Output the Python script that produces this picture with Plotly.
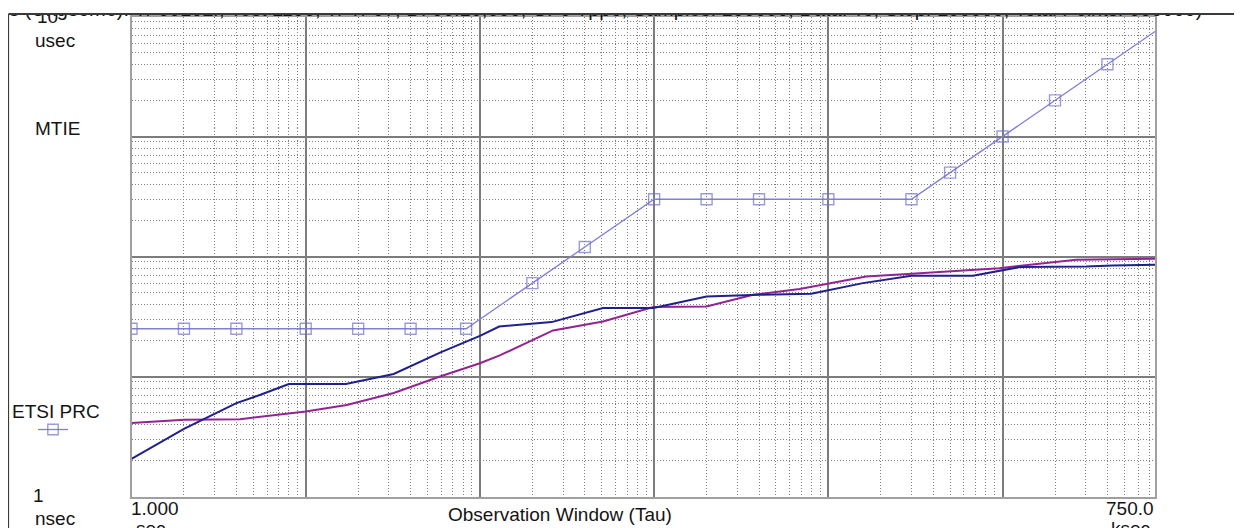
import math
import plotly.graph_objects as go

W, H = 1242, 528          # browser window
OFF = 8                   # default page margin around the figure
FW, FH = W - OFF, H - OFF  # figure size so it fills the window

# ---------------- data ----------------
# ETSI PRC mask: observation window (s) and MTIE (ns)
tau_mask = [1, 2, 4, 10, 20, 40, 83.3, 200, 400, 1000, 2000, 4000, 10000,
            30000, 50000, 100000, 200000, 400000, 750000]
mtie_mask_ns = [25, 25, 25, 25, 25, 25, 25, 60, 120, 300, 300, 300, 300,
                300, 500, 1000, 2000, 4000, 7500]

# measured curve A (dark blue)
tau_a = [1, 2, 4, 5.5, 8, 17, 32, 59, 100, 129, 258, 509, 990, 2000, 4040,
         7980, 15800, 30000, 67600, 100000, 125000, 302000, 428000, 750000]
mtie_a_ns = [2.06, 3.66, 6.0, 7.04, 8.65, 8.65, 10.5, 15.8, 21.8, 26.1, 28.4,
             37.2, 37.2, 46.4, 48.0, 48.9, 60, 69, 69, 76.4, 81.6, 82.6, 84.1, 85.3]

# measured curve B (purple)
tau_b = [1, 2, 4.2, 7.8, 10, 17.2, 32, 59, 100, 130, 263, 509, 990, 2000,
         3700, 6840, 16500, 30000, 96000, 265000, 750000]
mtie_b_ns = [4.09, 4.36, 4.41, 4.89, 5.11, 5.78, 7.28, 10.0, 12.9, 15.0, 24.2,
             28.7, 37.9, 38.3, 48.0, 53.5, 68.1, 71.8, 80.0, 93.9, 95.7]

# text
mask_name = "ETSI PRC"
y_title = "MTIE"
x_title = "Observation Window (Tau)"
y_top_label = ["10", "usec"]
y_bottom_label = ["1", "nsec"]
x_left_label = ["1.000", "sec"]
x_right_label = ["750.0", "ksec"]
header_text = ("s (Ungsome): Tr 00102r, Test 1100, Tr Tr 07, D: 00:10,000, Gr 0 Tppo, "
               "Samples: 100000, Data: To, Step: 100000, Total Points: 000000)")

# ---------------- styling / layout helpers ----------------
FONT = "Liberation Sans, Arial, sans-serif"
TXT = "#141414"
# plot area in window pixels
PL, PR, PT, PB = 131.5, 1155.0, 16.5, 496.5


def fx(px):
    return (px - OFF) / FW


def fy(py):
    return 1 - (py - OFF) / FH


MASK_COL = "#7f7fd6"
A_COL = "#1f1f8e"
B_COL = "#932493"
MAJ = "#7c7c7c"
MIN = "#7f7f7f"

mask_sizes = [11] * (len(tau_mask) - 1) + [0]

fig = go.Figure()
fig.add_trace(go.Scatter(
    x=tau_mask, y=mtie_mask_ns, mode="lines+markers", name=" ",
    line=dict(color=MASK_COL, width=1.3),
    marker=dict(symbol="square-open", size=mask_sizes, color="#7070cc",
                line=dict(width=1.4)),
    showlegend=True))
fig.add_trace(go.Scatter(
    x=tau_b, y=mtie_b_ns, mode="lines", line=dict(color=B_COL, width=2),
    showlegend=False))
fig.add_trace(go.Scatter(
    x=tau_a, y=mtie_a_ns, mode="lines", line=dict(color=A_COL, width=2),
    showlegend=False))

# header strip: only the lower part of the glyphs shows below the frame line
# (overlay axes in window pixels: x2 = window x, y2 = window y)
fig.add_trace(go.Scatter(
    x=[9], y=[11], xaxis="x2", yaxis="y2", mode="text",
    text=[header_text], textposition="middle right",
    textfont=dict(family=FONT, size=20, color=TXT),
    cliponaxis=True, showlegend=False, hoverinfo="skip"))
fig.add_trace(go.Scatter(
    x=[37], y=[18], xaxis="x2", yaxis="y2", mode="text",
    text=[y_top_label[0]], textposition="middle right",
    textfont=dict(family=FONT, size=19, color=TXT),
    cliponaxis=True, showlegend=False, hoverinfo="skip"))

axis_common = dict(
    type="log", dtick=1, showticklabels=False, ticks="",
    showgrid=True, gridcolor=MAJ, gridwidth=1.6,
    minor=dict(dtick="D1", showgrid=True, gridcolor=MIN, gridwidth=1,
               griddash="1px,2px", ticks=""),
    showline=True, linecolor="#a0a0a0", linewidth=2, mirror=True,
    zeroline=False,
)

fig.update_layout(
    width=FW, height=FH,
    margin=dict(l=0, r=0, t=0, b=0),
    paper_bgcolor="white", plot_bgcolor="rgba(0,0,0,0)",
    xaxis=dict(range=[0, math.log10(750000)], domain=[fx(PL), fx(PR)], **axis_common),
    yaxis=dict(range=[0, 4], domain=[fy(PB), fy(PT)], **axis_common),
    xaxis2=dict(domain=[0, 1], range=[OFF, W], visible=False, anchor="y2"),
    yaxis2=dict(domain=[fy(40), 1], range=[40, OFF], visible=False, anchor="x2"),
    showlegend=True,
    legend=dict(x=fx(33), y=fy(415), xanchor="left", yanchor="top",
                bgcolor="rgba(0,0,0,0)", borderwidth=0,
                font=dict(family=FONT, size=12, color=TXT),
                itemclick=False, itemdoubleclick=False),
    font=dict(family=FONT, color=TXT, size=19),
)


def ann(text, x, y, xanchor="center", size=19):
    fig.add_annotation(text=text, x=fx(x), y=fy(y), xref="paper", yref="paper",
                       xanchor=xanchor, yanchor="middle", showarrow=False,
                       font=dict(family=FONT, size=size, color=TXT))


ann(y_top_label[1], 55, 40)
ann(y_title, 57, 128)
ann(mask_name, 56, 411)
ann(y_bottom_label[0], 38, 495)
ann(y_bottom_label[1], 55, 518)
ann(x_left_label[0], 155, 508)
ann(x_left_label[1], 134, 528, xanchor="left")
ann(x_title, 560, 514)
ann(x_right_label[0], 1130, 508)
ann(x_right_label[1], 1130, 528)

# white cover above the frame line (hides the top of the header glyphs)
fig.add_shape(type="rect", xref="paper", yref="paper", x0=0, x1=1,
              y0=fy(14), y1=1, fillcolor="white", line=dict(width=0), layer="above")
# window frame lines
fig.add_shape(type="line", xref="paper", yref="paper", x0=fx(8.5), x1=1,
              y0=fy(14), y1=fy(14), line=dict(color="#3a3a3a", width=2), layer="above")
fig.add_shape(type="line", xref="paper", yref="paper", x0=fx(8.5), x1=fx(8.5),
              y0=fy(14), y1=0, line=dict(color="#3a3a3a", width=1.2), layer="above")

fig.write_html("out.html")
